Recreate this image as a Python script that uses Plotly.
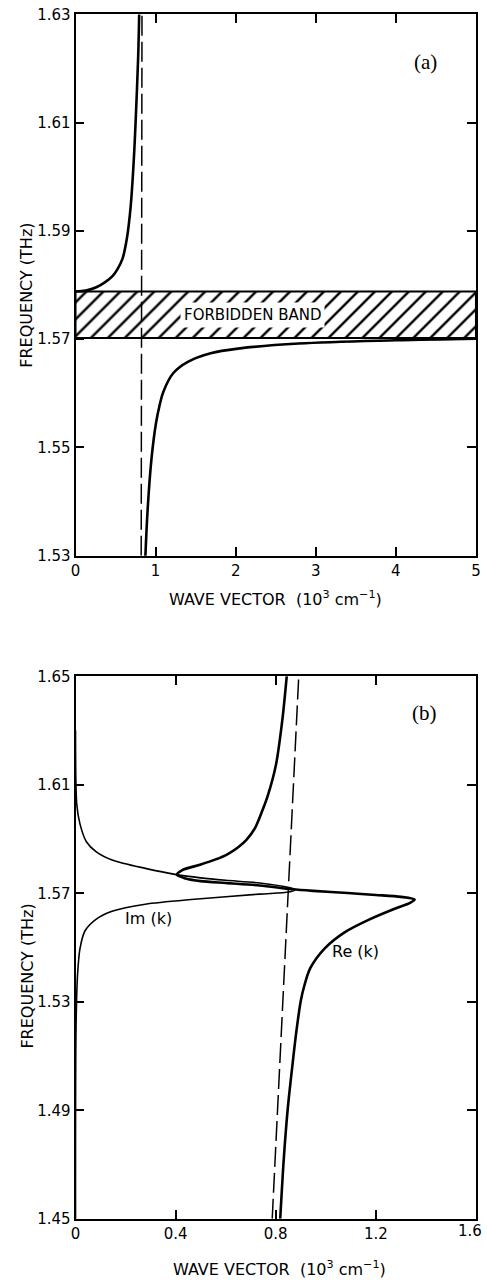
import plotly.graph_objects as go

# ---------------- data ----------------
# Panel (a)
a_upper_k = [0.0, 0.13, 0.26, 0.366, 0.465, 0.526, 0.587, 0.640, 0.689, 0.730, 0.758, 0.782, 0.795]
a_upper_f = [1.5788, 1.5790, 1.5796, 1.5805, 1.5817, 1.5830, 1.5849, 1.5885, 1.5946, 1.6038, 1.6129, 1.6221, 1.6300]
a_lower_k = [0.872, 0.902, 0.950, 1.005, 1.050, 1.097, 1.219, 1.402, 1.687, 2.054, 2.787, 4.0, 5.0]
a_lower_f = [1.5298, 1.5389, 1.5481, 1.5545, 1.5578, 1.5603, 1.5637, 1.5658, 1.5674, 1.5683, 1.5692, 1.5698, 1.5701]
a_light_k = [0.82, 0.83]
a_light_f = [1.53, 1.63]
band_low = 1.5702
band_high = 1.5788
a_xticks = [0, 1, 2, 3, 4, 5]
a_yticks = [1.53, 1.55, 1.57, 1.59, 1.61, 1.63]

# Panel (b)
b_re_k = [0.818, 0.832, 0.848, 0.866, 0.881, 0.900, 0.915, 0.938, 0.996, 1.075, 1.175, 1.283, 1.335, 1.355,
          1.30, 1.20, 1.088, 0.95, 0.866, 0.736, 0.60, 0.50, 0.44, 0.405, 0.425, 0.50, 0.56, 0.605,
          0.650, 0.683, 0.717, 0.742, 0.768, 0.801, 0.827, 0.844]
b_re_f = [1.4500, 1.4718, 1.4905, 1.5060, 1.5180, 1.5303, 1.5362, 1.5424, 1.5497, 1.5556, 1.5604, 1.5646, 1.5664, 1.5677,
          1.5687, 1.5694, 1.5701, 1.5709, 1.5715, 1.5729, 1.5738, 1.5745, 1.5755, 1.5768, 1.5785, 1.5806, 1.5825, 1.5843,
          1.5870, 1.5897, 1.5940, 1.5994, 1.6059, 1.6174, 1.6344, 1.6500]
b_im_k = [0.0, 0.002, 0.008, 0.018, 0.038, 0.083, 0.149, 0.279, 0.475, 0.736, 0.853, 0.878,
          0.853, 0.736, 0.60, 0.50, 0.403, 0.279, 0.149, 0.083, 0.044, 0.018, 0.005, 0.0]
b_im_f = [1.4500, 1.5200, 1.5398, 1.5497, 1.5562, 1.5605, 1.5635, 1.5660, 1.5678, 1.5697, 1.5705, 1.5713,
          1.5721, 1.5738, 1.5748, 1.5757, 1.5769, 1.5792, 1.5822, 1.5853, 1.5889, 1.5955, 1.6028, 1.6300]
b_light_k = [0.786, 0.892]
b_light_f = [1.45, 1.65]
b_xticks = [0, 0.4, 0.8, 1.2, 1.6]
b_xticklabels = ["0", "0.4", "0.8", "1.2", "1.6"]
b_yticks = [1.45, 1.49, 1.53, 1.57, 1.61, 1.65]

W, H = 487, 1287
def px(x):
    return x / W
def py(y):
    return 1 - y / H

fig = go.Figure()
black = "black"
DASH = "20px,6px"
SM = 1.0

# ---- panel (a) ----
fig.add_trace(go.Scatter(
    x=[0, 5, 5, 0, 0], y=[band_low, band_low, band_high, band_high, band_low],
    fill="toself", fillcolor="white",
    fillpattern=dict(shape="/", fgcolor=black, fgopacity=1, bgcolor="white", size=12, solidity=0.2),
    line=dict(color=black, width=2), mode="lines", xaxis="x", yaxis="y", hoverinfo="skip"))
fig.add_trace(go.Scatter(x=a_light_k, y=a_light_f, mode="lines",
                         line=dict(color=black, width=1.5, dash=DASH), xaxis="x", yaxis="y"))
fig.add_trace(go.Scatter(x=a_upper_k, y=a_upper_f, mode="lines",
                         line=dict(color=black, width=2.6, shape="spline", smoothing=SM),
                         xaxis="x", yaxis="y"))
fig.add_trace(go.Scatter(x=a_lower_k, y=a_lower_f, mode="lines",
                         line=dict(color=black, width=2.6, shape="spline", smoothing=SM),
                         xaxis="x", yaxis="y"))

# ---- panel (b) ----
fig.add_trace(go.Scatter(x=b_light_k, y=b_light_f, mode="lines",
                         line=dict(color=black, width=1.5, dash=DASH), xaxis="x2", yaxis="y2"))
fig.add_trace(go.Scatter(x=b_im_k, y=b_im_f, mode="lines",
                         line=dict(color=black, width=1.6, shape="spline", smoothing=0.8),
                         xaxis="x2", yaxis="y2"))
fig.add_trace(go.Scatter(x=b_re_k, y=b_re_f, mode="lines",
                         line=dict(color=black, width=2.6, shape="spline", smoothing=0.8),
                         xaxis="x2", yaxis="y2"))

tickfont = dict(family="DejaVu Sans", size=15, color=black)
axis_common = dict(showline=True, linecolor=black, linewidth=1.8, mirror="ticks",
                   ticks="inside", ticklen=9, tickwidth=1.5, tickcolor=black,
                   showgrid=False, zeroline=False, tickfont=tickfont)

# the last x label of panel (b) sits at the page edge: draw it as an annotation
b_ticktext_axis = b_xticklabels[:-1] + [""]

xdom = [px(72), px(481)]
fig.update_layout(
    width=W, height=H,
    margin=dict(l=0, r=0, t=0, b=0),
    paper_bgcolor="white", plot_bgcolor="white",
    showlegend=False,
    xaxis=dict(domain=xdom, range=[0, 5.002], tickvals=a_xticks, anchor="y", **axis_common),
    yaxis=dict(domain=[py(555), py(6)], range=[1.53, 1.6301], tickvals=a_yticks,
               ticktext=[f"{v:.2f}" for v in a_yticks], anchor="x", **axis_common),
    xaxis2=dict(domain=xdom, range=[0, 1.6008], tickvals=b_xticks, ticktext=b_ticktext_axis,
                anchor="y2", **axis_common),
    yaxis2=dict(domain=[py(1227), py(677)], range=[1.45, 1.6501], tickvals=b_yticks,
                ticktext=[f"{v:.2f}" for v in b_yticks], anchor="x2", **axis_common),
)
fig.add_annotation(text=b_xticklabels[-1], x=b_xticks[-1], xref="x2", y=py(1239), yref="paper",
                   xanchor="center", yanchor="middle", xshift=-6, showarrow=False, font=tickfont)

title_font = dict(family="DejaVu Sans", size=16, color=black)
xt = "WAVE VECTOR  (10<sup>3</sup> cm<sup>−1</sup>)"
fig.add_annotation(text=xt, x=px(276), y=py(598), xref="paper", yref="paper",
                   showarrow=False, font=title_font, xanchor="center", yanchor="middle")
fig.add_annotation(text=xt, x=px(280), y=py(1277), xref="paper", yref="paper",
                   showarrow=False, font=title_font, xanchor="center", yanchor="middle")
fig.add_annotation(text="FREQUENCY (THz)", x=px(22), y=py(291), xref="paper", yref="paper",
                   showarrow=False, font=title_font, textangle=-90,
                   xanchor="center", yanchor="middle")
fig.add_annotation(text="FREQUENCY (THz)", x=px(22), y=py(981), xref="paper", yref="paper",
                   showarrow=False, font=title_font, textangle=-90,
                   xanchor="center", yanchor="middle")

serif = dict(family="Liberation Serif", size=21, color=black)
fig.add_annotation(text="(a)", x=px(443), y=py(41), xref="paper", yref="paper",
                   showarrow=False, font=serif)
fig.add_annotation(text="(b)", x=px(443), y=py(714), xref="paper", yref="paper",
                   showarrow=False, font=serif)

fig.add_annotation(text="FORBIDDEN BAND", x=2.21, y=(band_low + band_high) / 2,
                   xref="x", yref="y", showarrow=False, bgcolor="white", borderpad=3,
                   font=dict(family="DejaVu Sans", size=15, color=black))
lab = dict(family="DejaVu Sans", size=16, color=black)
fig.add_annotation(text="Im (k)", x=0.29, y=1.5607, xref="x2", yref="y2",
                   showarrow=False, font=lab)
fig.add_annotation(text="Re (k)", x=1.12, y=1.5484, xref="x2", yref="y2",
                   showarrow=False, font=lab)

fig.write_html("out.html")
